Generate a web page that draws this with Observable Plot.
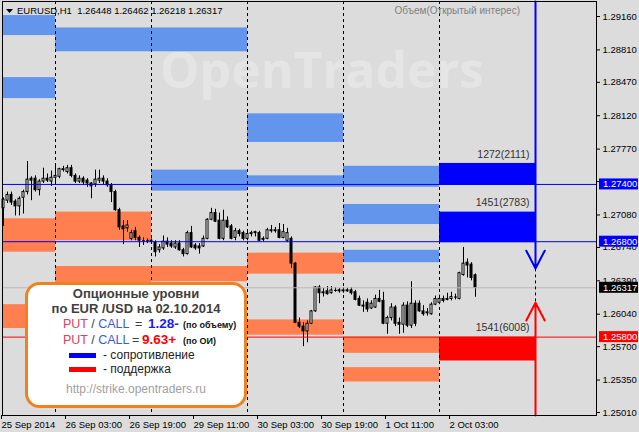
<!DOCTYPE html>
<html><head><meta charset="utf-8">
<script src="https://cdn.jsdelivr.net/npm/d3@7"></script>
<script src="https://cdn.jsdelivr.net/npm/@observablehq/plot@0.6"></script>
<style>
html,body{margin:0;padding:0;background:#dcdcdc;}
#chart{width:639px;height:432px;overflow:hidden}
</style></head><body><div id="chart"></div>
<script>
// ---------- data ----------
const symbol = "EURUSD,H1";
const lastBar = [1.26448, 1.26462, 1.26218, 1.26317];
const barOpen = [1.2715,1.2723,1.2729,1.2722,1.2717,1.2726,1.2732,1.2746,1.2746,1.2734,
1.2743,1.2746,1.2743,1.2747,1.2748,1.2755,1.2753,1.2757,1.2749,1.2743,
1.2746,1.2744,1.2741,1.2740,1.2744,1.2746,1.2743,1.2739,1.2732,1.2713,
1.2696,1.2694,1.2683,1.2691,1.2684,1.2681,1.2681,1.2681,1.2679,1.2671,
1.2673,1.2680,1.2678,1.2674,1.2678,1.2671,1.2667,1.2689,1.2676,1.2675,
1.2675,1.2683,1.2703,1.2710,1.2702,1.2683,1.2702,1.2696,1.2684,1.2691,
1.2689,1.2683,1.2688,1.2689,1.2689,1.2683,1.2683,1.2692,1.2691,1.2692,
1.2684,1.2681,1.2683,1.2657,1.2595,1.2591,1.2586,1.2594,1.2607,1.2632,
1.2626,1.2628,1.2626,1.2629,1.2629,1.2628,1.2629,1.2629,1.2627,1.2620,
1.2613,1.2616,1.2610,1.2611,1.2620,1.2618,1.2594,1.2600,1.2611,1.2595,
1.2593,1.2613,1.2592,1.2615,1.2615,1.2607,1.2605,1.2604,1.2614,1.2616,
1.2620,1.2619,1.2620,1.2622,1.2620,1.2645,1.2658,1.2656,1.26448];
const barHigh = [1.2726,1.2732,1.2732,1.2724,1.2727,1.2734,1.2764,1.2748,1.2749,1.2745,
1.2757,1.2751,1.2754,1.2760,1.2757,1.2759,1.2760,1.2760,1.2751,1.2749,
1.2748,1.2746,1.2742,1.2755,1.2755,1.2749,1.2746,1.2741,1.2734,1.2715,
1.2702,1.2702,1.2692,1.2695,1.2686,1.2684,1.2683,1.2683,1.2681,1.2677,
1.2686,1.2684,1.2681,1.2681,1.2681,1.2673,1.2691,1.2696,1.2678,1.2678,
1.2686,1.2704,1.2715,1.2714,1.2710,1.2713,1.2706,1.2698,1.2694,1.2693,
1.2691,1.2692,1.2691,1.2691,1.2691,1.2685,1.2694,1.2697,1.2695,1.2699,
1.2698,1.2694,1.2685,1.2658,1.2600,1.2595,1.2597,1.2608,1.2633,1.2634,
1.2631,1.2633,1.2633,1.2632,1.2631,1.2632,1.2631,1.2632,1.2629,1.2623,
1.2618,1.2620,1.2618,1.2624,1.2629,1.2627,1.2602,1.2615,1.2613,1.2600,
1.2616,1.2617,1.2638,1.2618,1.2618,1.2613,1.2610,1.2616,1.2623,1.2624,
1.2623,1.2626,1.2627,1.2625,1.2648,1.2674,1.2662,1.2658,1.26462];
const barLow = [1.2696,1.2720,1.2718,1.2707,1.2707,1.2709,1.2729,1.2723,1.2732,1.2728,
1.2741,1.2742,1.2738,1.2740,1.2746,1.2753,1.2751,1.2747,1.2741,1.2741,
1.2740,1.2737,1.2725,1.2737,1.2741,1.2739,1.2737,1.2721,1.2712,1.2692,
1.2677,1.2690,1.2681,1.2681,1.2674,1.2676,1.2678,1.2678,1.2664,1.2668,
1.2671,1.2674,1.2673,1.2672,1.2670,1.2664,1.2666,1.2673,1.2671,1.2667,
1.2674,1.2682,1.2702,1.2700,1.2682,1.2681,1.2694,1.2682,1.2681,1.2685,
1.2681,1.2681,1.2685,1.2685,1.2680,1.2680,1.2682,1.2689,1.2689,1.2683,
1.2683,1.2679,1.2652,1.2594,1.2589,1.2570,1.2574,1.2593,1.2606,1.2615,
1.2622,1.2624,1.2625,1.2627,1.2626,1.2626,1.2627,1.2624,1.2618,1.2612,
1.2606,1.2606,1.2609,1.2610,1.2616,1.2593,1.2583,1.2597,1.2591,1.2583,
1.2584,1.2590,1.2589,1.2591,1.2606,1.2602,1.2602,1.2603,1.2613,1.2614,
1.2616,1.2618,1.2618,1.2619,1.2619,1.2644,1.2642,1.2639,1.26218];
const barClose = [1.2724,1.2729,1.2721,1.2717,1.2725,1.2732,1.2745,1.2744,1.2734,1.2743,
1.2746,1.2744,1.2747,1.2749,1.2756,1.2756,1.2757,1.2749,1.2743,1.2746,
1.2742,1.2741,1.2738,1.2745,1.2746,1.2743,1.2739,1.2732,1.2713,1.2695,
1.2693,1.2697,1.2689,1.2684,1.2681,1.2681,1.2681,1.2680,1.2669,1.2674,
1.2680,1.2677,1.2675,1.2678,1.2671,1.2667,1.2689,1.2674,1.2673,1.2673,
1.2683,1.2703,1.2710,1.2701,1.2683,1.2702,1.2695,1.2683,1.2691,1.2688,
1.2683,1.2688,1.2689,1.2690,1.2681,1.2682,1.2692,1.2691,1.2692,1.2684,
1.2690,1.2689,1.2657,1.2595,1.2591,1.2586,1.2594,1.2607,1.2632,1.2626,
1.2627,1.2625,1.2629,1.2629,1.2628,1.2629,1.2628,1.2626,1.2619,1.2613,
1.2612,1.2609,1.2615,1.2620,1.2617,1.2594,1.2600,1.2611,1.2594,1.2593,
1.2613,1.2592,1.2615,1.2594,1.2607,1.2604,1.2606,1.2614,1.2620,1.2620,
1.2618,1.2620,1.2622,1.2622,1.2647,1.2657,1.2655,1.2642,1.26317];

// time axis (bar index of each label)
const timeTickBars = [0, 16, 32, 48, 64, 80, 96, 112];
const timeLabels = ["25 Sep 2014","26 Sep 03:00","26 Sep 19:00","29 Sep 11:00","30 Sep 03:00","30 Sep 19:00","1 Oct 11:00","2 Oct 03:00"];
// trading days (bar index range)
const dayNames = ["25 Sep","26 Sep","29 Sep","30 Sep","1 Oct","2 Oct"];
const dayStart = [-0.25, 13, 37, 61, 85, 109];
const dayEnd   = [13, 37, 61, 85, 109, 133];
const daySeparators = [13, 37, 61, 85, 109];

// option levels per day: kind 0 = call (resistance), 1 = put (support), 2 = current call, 3 = current put
const bandDay  = [0,0,0,0, 1,1,1, 2,2,2, 3,3,3,3, 4,4,4,4,4, 5,5,5];
const bandKind = [0,0,1,1, 0,1,1, 0,0,1, 0,0,1,1, 0,0,0,1,1, 2,2,3];
const bandLow  = [1.2896,1.2830,1.2669,1.2589, 1.2879,1.2681,1.2637, 1.2879,1.2733,1.2638, 1.2784,1.2737,1.2646,1.2582, 1.2737,1.2698,1.2658,1.2563,1.2533, 1.2739,1.2679,1.2555];
const bandHigh = [1.2917,1.2852,1.2704,1.2614, 1.2904,1.2711,1.2654, 1.2904,1.2755,1.2654, 1.2814,1.2749,1.2668,1.2598, 1.2759,1.2719,1.2671,1.2580,1.2548, 1.2762,1.2711,1.2580];
const bandLabel = ["","","","", "","","", "","","", "","","","", "","","","","", "1272(2111)","1451(2783)","1541(6008)"];
const bandColors = ["#6495ed", "#ff7f50", "#0000ff", "#ff0000"];

const resistanceLines = [1.2740, 1.2680];
const supportLines = [1.2580];
const arrowBar = 133;
const blueArrowTip = 1.2652;
const redArrowTip = 1.2616;
const yTicks = [1.29160,1.28810,1.28470,1.28120,1.27770,1.27430,1.27080,1.26740,1.26390,1.26040,1.25700,1.25350,1.25010];
const yTop = 1.293172, yBottom = 1.249786;

// ---------- chart ----------
const idx = d3.range(barOpen.length);
const bands = bandDay.map((d, i) => ({day: d, kind: bandKind[i], lo: bandLow[i], hi: bandHigh[i], label: bandLabel[i]}));
const font = "'Liberation Sans', Arial, sans-serif";

const chart = Plot.plot({
  width: 639, height: 432,
  marginLeft: 2, marginRight: 43, marginTop: 1, marginBottom: 17,
  style: {background: "#dcdcdc", fontFamily: font, fontSize: "9.5px", color: "#000", overflow: "visible"},
  x: {type: "linear", domain: [-0.25, 148.25], axis: null},
  y: {domain: [yBottom, yTop], axis: null},
  marks: [
    Plot.rect(bands, {x1: d => dayStart[d.day], x2: d => dayEnd[d.day], y1: "lo", y2: "hi", fill: d => bandColors[d.kind]}),
    Plot.ruleX(daySeparators, {stroke: "black", strokeDasharray: "3,3"}),
    Plot.ruleX(idx, {x: i => i, y1: i => barLow[i], y2: i => barHigh[i], stroke: "black"}),
    Plot.rect(idx.filter(i => barOpen[i] !== barClose[i]), {
      x1: i => i - 0.25, x2: i => i + 0.25,
      y1: i => barOpen[i], y2: i => barClose[i],
      fill: i => barClose[i] > barOpen[i] ? "white" : "black", stroke: "black"}),
    Plot.link(idx.filter(i => barOpen[i] === barClose[i]), {
      x1: i => i - 0.375, x2: i => i + 0.375, y1: i => barOpen[i], y2: i => barClose[i], stroke: "black"}),
    Plot.ruleY(resistanceLines, {stroke: "#0000ff"}),
    Plot.ruleY([lastBar[3]], {stroke: "#b8b8b8"}),
    Plot.ruleY(supportLines, {stroke: "#ff0000"}),
    Plot.text(bands.filter(d => d.label), {x: d => dayEnd[d.day], y: "hi", text: "label", textAnchor: "end", dx: -6, dy: -9, fill: "#333", fontSize: 10.5}),
    Plot.arrow([0], {x1: () => arrowBar, x2: () => arrowBar, y1: () => yTop, y2: () => blueArrowTip, stroke: "#0000ff", strokeWidth: 2, headLength: 15, headAngle: 55}),
    Plot.link([0], {x1: () => arrowBar, x2: () => arrowBar, y1: () => blueArrowTip, y2: () => redArrowTip, stroke: "black", strokeDasharray: "3,3"}),
    Plot.arrow([0], {x1: () => arrowBar, x2: () => arrowBar, y1: () => yBottom, y2: () => redArrowTip, stroke: "#ff0000", strokeWidth: 2, headLength: 15, headAngle: 55}),
    Plot.frame({stroke: "black"}),
    Plot.axisY(yTicks, {anchor: "right", tickSize: 3, tickPadding: 3, tickFormat: d => d.toFixed(5), label: null, fontSize: 9.5}),
    Plot.axisX(timeTickBars, {anchor: "bottom", tickSize: 4, tickPadding: 2, tickFormat: d => timeLabels[timeTickBars.indexOf(d)], textAnchor: "start", dx: -2, label: null, fontSize: 9.5})
  ]
});
document.getElementById("chart").appendChild(chart);

// ---------- annotations ----------
const svg = d3.select(chart);
const ys = chart.scale("y");

// watermark (behind marks)
const wm = svg.insert("g", "g").attr("opacity", 0.28);
wm.append("text").attr("x", 322).attr("y", 88).attr("text-anchor", "middle")
  .attr("font-family", "'Open Sans', sans-serif").attr("font-weight", "bold").attr("font-size", 50)
  .attr("fill", "#ffffff").text("OpenTraders");

// header
const hdr = svg.append("g").attr("text-anchor", "start").attr("font-family", font);
hdr.append("path").attr("d", "M6,9L13,9L9.5,13Z").attr("fill", "black");
hdr.append("text").attr("x", 17).attr("y", 14).attr("font-size", 9.5)
  .attr("xml:space", "preserve").style("white-space", "pre")
  .text(`${symbol}  ${lastBar.map(v => v.toFixed(5)).join(" ")}`);
hdr.append("text").attr("x", 520).attr("y", 14).attr("text-anchor", "end")
  .attr("font-size", 10).attr("fill", "#808080").text("Объем(Открытый интерес)");

// price label boxes on the right axis
const pl = svg.append("g").attr("text-anchor", "start").attr("font-family", font);
[[resistanceLines[0], "#0000ff"], [resistanceLines[1], "#0000ff"], [lastBar[3], "#000000"], [supportLines[0], "#ff0000"]].forEach(([v, c]) => {
  const y = ys.apply(v);
  pl.append("rect").attr("x", 599).attr("y", y - 5.5).attr("width", 39).attr("height", 11).attr("fill", c);
  pl.append("text").attr("x", 603).attr("y", y + 3.5).attr("font-size", 9.5)
    .attr("fill", "white").text(v.toFixed(5));
});

// info box
const lg = svg.append("g").attr("font-family", font).attr("text-anchor", "start");
lg.append("rect").attr("x", 26.5).attr("y", 283.5).attr("width", 219).attr("height", 123).attr("rx", 13)
  .attr("fill", "white").attr("stroke", "#f0821e").attr("stroke-width", 3);
lg.append("text").attr("x", 136).attr("y", 298).attr("text-anchor", "middle").attr("font-weight", "bold")
  .attr("font-size", 13).attr("fill", "#404040").text("Опционные уровни");
lg.append("text").attr("x", 136).attr("y", 313).attr("text-anchor", "middle").attr("font-weight", "bold")
  .attr("font-size", 13).attr("fill", "#404040").text("по EUR /USD на 02.10.2014");
function ratioLine(y, eqX, valX, val, valColor, note) {
  const t = lg.append("text").attr("y", y).attr("font-size", 12.5);
  t.append("tspan").attr("x", 63).attr("fill", "#e0405a").text("PUT");
  t.append("tspan").attr("fill", "#404040").text(" / ");
  t.append("tspan").attr("fill", "#3a5bd9").text("CALL");
  t.append("tspan").attr("x", eqX).attr("fill", "#404040").text("=");
  t.append("tspan").attr("x", valX).attr("fill", valColor).attr("font-weight", "bold").attr("font-size", 13.5).text(val);
  t.append("tspan").attr("x", 183).attr("fill", "#111").attr("font-weight", "bold").attr("font-size", 9).text(note);
}
ratioLine(328, 135, 148, "1.28-", "#1a1aff", "(по объему)");
ratioLine(344, 132, 142, "9.63+", "#ff0000", "(по ОИ)");
lg.append("rect").attr("x", 69).attr("y", 353).attr("width", 27).attr("height", 5).attr("fill", "#0000ff");
lg.append("text").attr("x", 103).attr("y", 359).attr("font-size", 12).attr("fill", "#222").text("- сопротивление");
lg.append("rect").attr("x", 69).attr("y", 367).attr("width", 27).attr("height", 5).attr("fill", "#ff0000");
lg.append("text").attr("x", 103).attr("y", 373).attr("font-size", 12).attr("fill", "#222").text("- поддержка");
lg.append("text").attr("x", 136).attr("y", 393).attr("text-anchor", "middle").attr("font-size", 12)
  .attr("fill", "#a0a0a0").text("http://strike.opentraders.ru");
</script></body></html>
